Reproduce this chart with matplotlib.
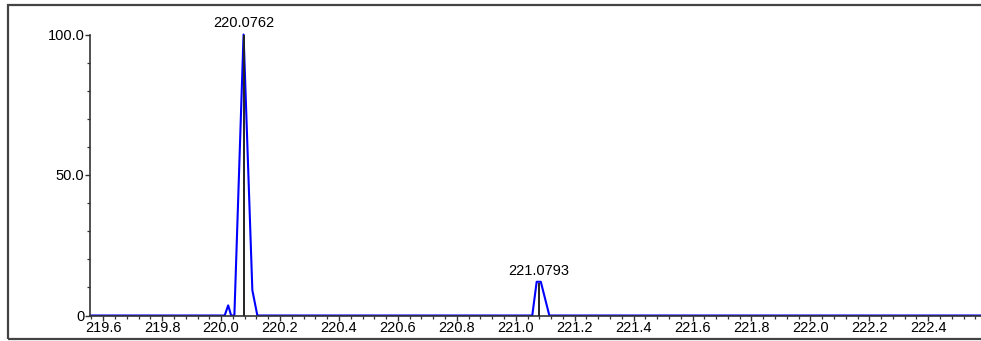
import matplotlib
matplotlib.use("Agg")
import matplotlib.pyplot as plt
from matplotlib.patches import Rectangle
from matplotlib.ticker import MultipleLocator, FixedLocator

plt.rcParams['font.family'] = ['Liberation Sans', 'DejaVu Sans']

# Profile trace (m/z, relative intensity)
profile_mz = [219.555, 220.012, 220.024, 220.034, 220.045, 220.0762, 220.106,
              220.123, 221.056, 221.071, 221.085, 221.114, 222.58]
profile_int = [0, 0, 3.6, 0, 0, 100, 9, 0, 0, 12, 12, 0, 0]

# Centroid sticks with their labels
centroid_mz = [220.0762, 221.0793]
centroid_int = [100.0, 11.5]
centroid_labels = ["220.0762", "221.0793"]

x_major = [219.6, 219.8, 220.0, 220.2, 220.4, 220.6, 220.8, 221.0,
           221.2, 221.4, 221.6, 221.8, 222.0, 222.2, 222.4]
y_major = [0, 50, 100]
y_labels = ["0", "50.0", "100.0"]
y_minor = [10, 20, 30, 40, 60, 70, 80, 90]

W, H, DPI = 981, 341, 100
fig = plt.figure(figsize=(W / DPI, H / DPI), dpi=DPI)

left_px, right_px = 90, 981
bottom_px, top_px = 315.5, 6.4
ax = fig.add_axes([left_px / W, (H - bottom_px) / H,
                   (right_px - left_px) / W, (bottom_px - top_px) / H])

ax.plot(profile_mz, profile_int, color='#0000ff', lw=1.5, zorder=2)
for mz, inten, lab in zip(centroid_mz, centroid_int, centroid_labels):
    ax.vlines(mz, 0, inten, color='#222222', lw=1.4, zorder=3)
    ax.annotate(lab, (mz, inten), xytext=(0, 3.5), textcoords='offset points',
                ha='center', va='bottom', fontsize=10.5)

ax.set_xlim(219.555, 222.579)
ax.set_ylim(0, 110)

for s in ('top', 'right'):
    ax.spines[s].set_visible(False)
ax.spines['left'].set_bounds(0, 100)
for s in ('left', 'bottom'):
    ax.spines[s].set_color('#333333')
    ax.spines[s].set_linewidth(1.2)

ax.xaxis.set_major_locator(FixedLocator(x_major))
ax.set_xticklabels([f"{v:.1f}" for v in x_major])
ax.xaxis.set_minor_locator(MultipleLocator(0.04))
ax.yaxis.set_major_locator(FixedLocator(y_major))
ax.set_yticklabels(y_labels)
ax.yaxis.set_minor_locator(FixedLocator(y_minor))

ax.tick_params(axis='both', which='major', direction='out', length=3.5,
               width=1.0, color='#333333', labelsize=10.5, pad=0.5)
ax.tick_params(axis='both', which='minor', direction='out', length=2.2,
               width=0.9, color='#333333')

# Outer frame around the panel
fig.add_artist(Rectangle((7.5 / W, (H - 338.5) / H), 1.2, (338.5 - 5) / H,
                         transform=fig.transFigure, fill=False,
                         edgecolor='#444444', lw=1.6))

fig.savefig("out.png", dpi=DPI)
